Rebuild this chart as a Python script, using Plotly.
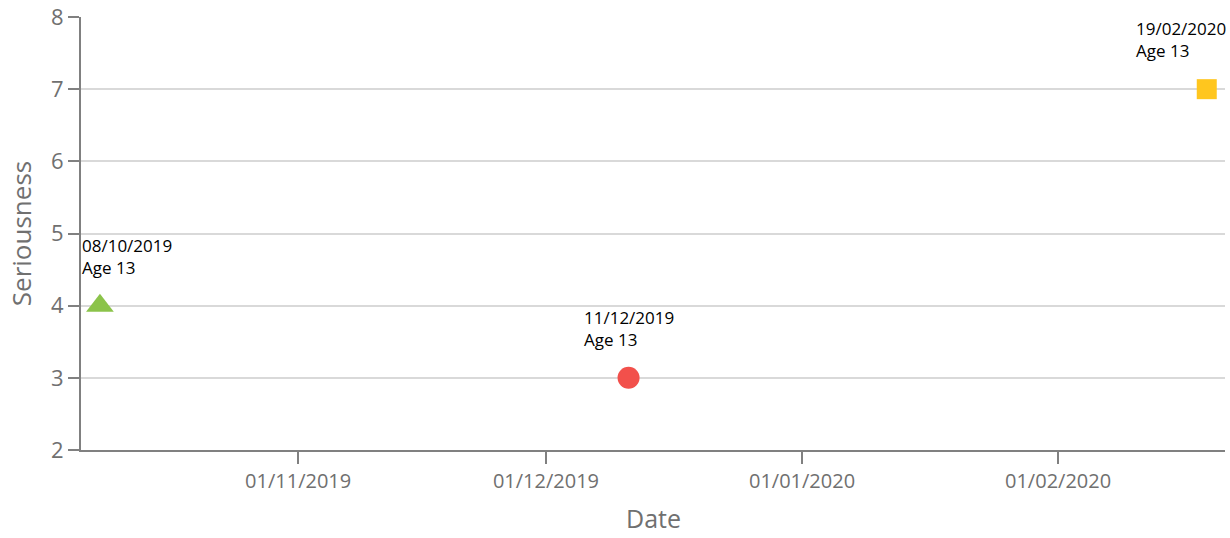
import plotly.graph_objects as go

dates = ["2019-10-08", "2019-12-11", "2020-02-19"]
seriousness = [4, 3, 7]
labels = ["08/10/2019<br>Age 13", "11/12/2019<br>Age 13", "19/02/2020<br>Age 13"]
symbols = ["triangle-up", "circle", "square"]
marker_sizes = [24, 22, 20]
colors = ["#8BC34A", "#F2504B", "#FFC61E"]
label_shift = [27, 0, -26]

tick_vals = ["2019-11-01", "2019-12-01", "2020-01-01", "2020-02-01"]
tick_text = ["01/11/2019", "01/12/2019", "01/01/2020", "01/02/2020"]

FONT = "Open Sans, Segoe UI, sans-serif"

fig = go.Figure()
for d, s, sym, sz, c in zip(dates, seriousness, symbols, marker_sizes, colors):
    fig.add_trace(go.Scatter(
        x=[d], y=[s], mode="markers", cliponaxis=False,
        marker=dict(symbol=sym, color=c, size=sz, line=dict(width=0)),
        showlegend=False, hoverinfo="skip"))

for d, s, t, sh in zip(dates, seriousness, labels, label_shift):
    fig.add_annotation(x=d, y=s, text=t, showarrow=False, xanchor="center",
                       yanchor="bottom", yshift=25, xshift=sh, align="left",
                       font=dict(family=FONT, size=17, color="#000000"))

# x-axis title
fig.add_annotation(x=0.5, y=0, xref="paper", yref="paper", text="Date",
                   showarrow=False, xanchor="center", yanchor="bottom", yshift=-86,
                   borderpad=0,
                   font=dict(family=FONT, size=25, color="#707070"))

fig.update_layout(
    width=1230, height=538,
    margin=dict(l=81, r=5, t=17, b=88),
    paper_bgcolor="white", plot_bgcolor="white",
    font=dict(family=FONT, color="#707070"),
)
fig.update_xaxes(
    range=["2019-10-05 17:00", "2020-02-21 05:00"],
    tickvals=tick_vals, ticktext=tick_text, automargin=False,
    ticks="outside", ticklen=12, tickwidth=2, tickcolor="#808080",
    showline=True, linecolor="#808080", linewidth=2,
    showgrid=False, zeroline=False,
    tickfont=dict(size=20, color="#707070"),
)
fig.update_yaxes(
    range=[2, 8], dtick=1, automargin=False,
    ticks="outside", ticklen=11, tickwidth=2, tickcolor="#808080",
    showline=True, linecolor="#808080", linewidth=2,
    showgrid=True, gridcolor="#D9D9D9", gridwidth=1.5, zeroline=False,
    tickfont=dict(size=22, color="#707070"),
    title=dict(text="Seriousness", font=dict(size=26, color="#707070"), standoff=12),
)

fig.write_html("out.html", config={"displayModeBar": False},
               post_script="document.body.style.margin='0';document.body.style.overflow='hidden';")
